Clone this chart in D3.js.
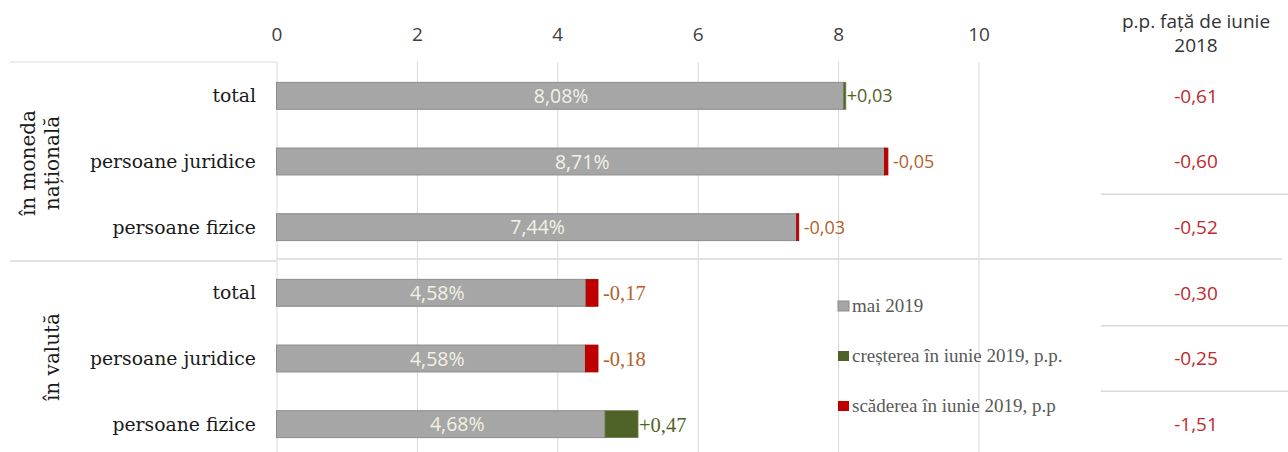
<!DOCTYPE html>
<html>
<head>
<meta charset="utf-8">
<script src="https://cdn.jsdelivr.net/npm/d3@7/dist/d3.min.js"></script>
<style>
  body { margin: 0; background: #fff; }
  svg { display: block; }
</style>
</head>
<body>
<div id="viz"></div>
<script>
// Input Data
var categories = ["total", "persoane juridice", "persoane fizice", "total", "persoane juridice", "persoane fizice"]
var groups = [["în moneda", "națională"], ["în valută"]]
var mai2019 = [8.08, 8.71, 7.44, 4.58, 4.58, 4.68]
var changeJune = [0.03, -0.05, -0.03, -0.17, -0.18, 0.47]
var vsJune2018 = [-0.61, -0.60, -0.52, -0.30, -0.25, -1.51]
var tickValues = [0, 2, 4, 6, 8, 10]
var legendLabels = ["mai 2019", "creșterea în iunie 2019, p.p.", "scăderea în iunie 2019, p.p"]
var headerLines = ["p.p. față de iunie", "2018"]

var width = 1288, height = 452
var sans = "'Open Sans', 'Noto Sans', sans-serif"
var serif = "'DejaVu Serif', serif"
var times = "'Liberation Serif', serif"

var svg = d3.select("#viz")
      .append("svg")
      .attr("width", width)
      .attr("height", height)

var fmt = function (v, sign) {
      var s = Math.abs(v).toFixed(2).replace(".", ",")
      if (v < 0) return "-" + s
      return (sign ? "+" : "") + s
}

// Specify the x-axis
var xScale = d3.scaleLinear()
      .domain([0, 10])
      .range([276.5, 978.5])

// rows
var yScale = d3.scaleBand()
      .domain(d3.range(categories.length))
      .range([63, 457])
      .paddingInner(0.59)
      .paddingOuter(0.295)
var step = yScale.step()

// grid lines
svg.append("g")
      .attr("transform", "translate(0,62)")
      .call(d3.axisBottom(xScale).tickValues(tickValues).tickSize(height - 62).tickFormat(""))
      .call(function (g) { g.select(".domain").remove() })
      .selectAll("line")
      .attr("stroke", "#d9d9d9")

// tick labels on top
svg.append("g")
      .attr("transform", "translate(0,62)")
      .call(d3.axisTop(xScale).tickValues(tickValues).tickSize(0).tickPadding(21))
      .call(function (g) { g.select(".domain").remove() })
      .selectAll("text")
      .attr("font-family", sans)
      .attr("font-size", 19)
      .attr("fill", "#404040")

// separators on the left
svg.append("line")
      .attr("x1", 10).attr("x2", xScale(0))
      .attr("y1", 62).attr("y2", 62)
      .attr("stroke", "#d9d9d9")
svg.append("line")
      .attr("x1", 10).attr("x2", xScale(0))
      .attr("y1", yScale(2) + yScale.bandwidth() / 2 + step / 2 + 1)
      .attr("y2", yScale(2) + yScale.bandwidth() / 2 + step / 2 + 1)
      .attr("stroke", "#d9d9d9")
      .attr("stroke-width", 1.5)
svg.append("line")
      .attr("x1", xScale(0)).attr("x2", 1282)
      .attr("y1", yScale(2) + yScale.bandwidth() / 2 + step / 2 - 1)
      .attr("y2", yScale(2) + yScale.bandwidth() / 2 + step / 2 - 1)
      .attr("stroke", "#d9d9d9")
      .attr("stroke-width", 1.5)

// separators in the right column
svg.selectAll("sepRight")
      .data([1, 3, 4])
      .enter()
      .append("line")
      .attr("x1", 1101).attr("x2", 1288)
      .attr("y1", function (i) { return yScale(i) + yScale.bandwidth() / 2 + step / 2 })
      .attr("y2", function (i) { return yScale(i) + yScale.bandwidth() / 2 + step / 2 })
      .attr("stroke", "#d9d9d9")
      .attr("stroke-width", 1.5)

var rows = categories.map(function (c, i) {
      return { i: i, name: c, value: mai2019[i], change: changeJune[i], prev: vsJune2018[i] }
})

// category labels
svg.selectAll("catLabel")
      .data(rows)
      .enter()
      .append("text")
      .attr("x", 256)
      .attr("y", function (d) { return yScale(d.i) + yScale.bandwidth() / 2 })
      .attr("dy", "0.35em")
      .attr("text-anchor", "end")
      .attr("font-family", serif)
      .attr("font-size", 18.8)
      .attr("fill", "#1a1a1a")
      .text(function (d) { return d.name })

// group labels (rotated)
groups.forEach(function (lines, g) {
      var cy = g === 0 ? 163 : 357
      var cxs = g === 0 ? [28, 52] : [52]
      lines.forEach(function (t, k) {
            svg.append("text")
                  .attr("transform", "translate(" + cxs[k] + "," + cy + ")rotate(-90)")
                  .attr("text-anchor", "middle")
                  .attr("dy", "0.35em")
                  .attr("font-family", serif)
                  .attr("font-size", 20)
                  .attr("fill", "#1a1a1a")
                  .text(t)
      })
})

// grey bars (the part that stays)
svg.selectAll("greyBar")
      .data(rows)
      .enter()
      .append("rect")
      .attr("x", xScale(0))
      .attr("y", function (d) { return yScale(d.i) })
      .attr("width", function (d) { return xScale(Math.min(d.value, d.value + d.change)) - xScale(0) })
      .attr("height", yScale.bandwidth())
      .attr("fill", "#a6a6a6")
      .attr("stroke", "#8c8c8c")
      .attr("stroke-width", 1)

// change segments
svg.selectAll("changeBar")
      .data(rows)
      .enter()
      .append("rect")
      .attr("x", function (d) { return xScale(Math.min(d.value, d.value + d.change)) })
      .attr("y", function (d) { return yScale(d.i) })
      .attr("width", function (d) { return xScale(Math.abs(d.change)) - xScale(0) })
      .attr("height", yScale.bandwidth())
      .attr("fill", function (d) { return d.change > 0 ? "#4f6228" : "#c00000" })
      .attr("stroke", function (d) { return d.change > 0 ? "#6b7d4a" : "#a00000" })
      .attr("stroke-width", 0.8)

// value labels inside bars
svg.selectAll("valLabel")
      .data(rows)
      .enter()
      .append("text")
      .attr("x", function (d) { return (xScale(0) + xScale(Math.max(d.value, d.value + d.change))) / 2 })
      .attr("y", function (d) { return yScale(d.i) + yScale.bandwidth() / 2 })
      .attr("dy", "0.36em")
      .attr("text-anchor", "middle")
      .attr("font-family", sans)
      .attr("font-size", 19.5)
      .attr("fill", "#f2f2e4")
      .text(function (d) { return fmt(d.value) + "%" })

// change labels
svg.selectAll("chLabel")
      .data(rows)
      .enter()
      .append("text")
      .attr("x", function (d) { return xScale(Math.max(d.value, d.value + d.change)) + (d.change > 0 ? 1 : 5) })
      .attr("y", function (d) { return yScale(d.i) + yScale.bandwidth() / 2 })
      .attr("dy", "0.36em")
      .attr("font-family", function (d) { return d.i < 3 ? sans : times })
      .attr("font-size", function (d) { return d.i < 3 ? 18 : 20.5 })
      .attr("fill", function (d) { return d.change > 0 ? "#4f6228" : "#b3612a" })
      .text(function (d) { return fmt(d.change, true) })

// right column header
headerLines.forEach(function (t, k) {
      svg.append("text")
            .attr("x", 1196)
            .attr("y", 28 + k * 24)
            .attr("text-anchor", "middle")
            .attr("font-family", sans)
            .attr("font-size", 19)
            .attr("fill", "#333")
            .text(t)
})

// right column values
svg.selectAll("prevLabel")
      .data(rows)
      .enter()
      .append("text")
      .attr("x", 1196)
      .attr("y", function (d) { return yScale(d.i) + yScale.bandwidth() / 2 })
      .attr("dy", "0.36em")
      .attr("text-anchor", "middle")
      .attr("font-family", sans)
      .attr("font-size", 19)
      .attr("fill", "#c0282e")
      .text(function (d) { return fmt(d.prev) })

// legend
var legendColors = ["#a6a6a6", "#4f6228", "#c00000"]
var legend = svg.selectAll("legendItem")
      .data(legendLabels)
      .enter()
      .append("g")
      .attr("transform", function (d, i) { return "translate(838," + (306 + i * 50) + ")" })
legend.append("rect")
      .attr("x", 0).attr("y", -5)
      .attr("width", 11).attr("height", 10)
      .attr("fill", function (d, i) { return legendColors[i] })
      .attr("stroke", function (d, i) { return i === 0 ? "#8c8c8c" : "none" })
legend.append("text")
      .attr("x", 14)
      .attr("dy", "0.3em")
      .attr("font-family", times)
      .attr("font-size", 19)
      .attr("fill", "#595959")
      .text(function (d) { return d })
</script>
</body>
</html>
